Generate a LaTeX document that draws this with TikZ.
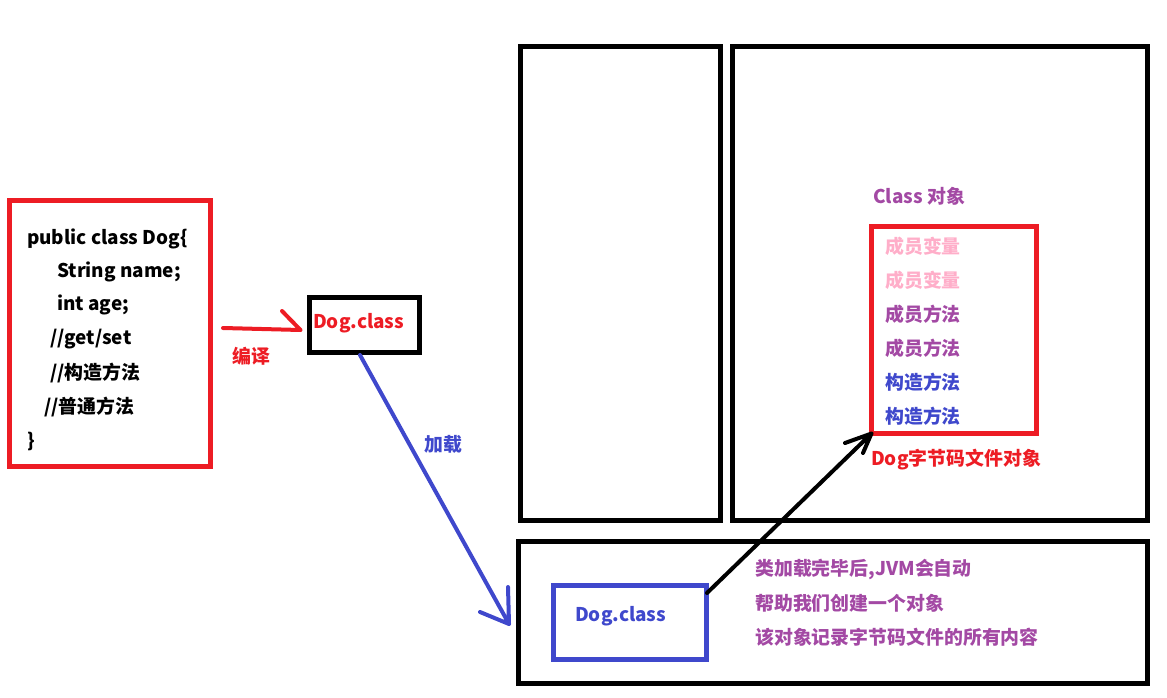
\documentclass[tikz,border=0pt]{standalone}
\usepackage{fontspec}
\setmainfont{Noto Sans CJK SC}
\usetikzlibrary{calc}
\definecolor{pred}{HTML}{ED1C24}
\definecolor{pblue}{HTML}{3F48CC}
\definecolor{ppurple}{HTML}{A349A4}
\definecolor{ppink}{HTML}{FFAEC9}
\begin{document}
\begin{tikzpicture}[x=1pt,y=-1pt,
  box/.style={draw, rectangle, line width=5pt, inner sep=0pt, outer sep=0pt},
  txt/.style={anchor=west, inner sep=0pt, font=\fontsize{18.9}{21}\selectfont\bfseries},
  stroke/.style={line width=4pt, line cap=round}]
\useasboundingbox (0,0) rectangle (1167,698);
% boxes
\node[box, draw=pred, minimum width=200.5, minimum height=266] (code) at (109.75,333) {};
\node[box, minimum width=109.5, minimum height=55] (dogc) at (364.25,324.5) {};
\node[box, minimum width=200, minimum height=473.5] (stack) at (620.5,283.25) {};
\node[box, minimum width=414.5, minimum height=473.5] (heap) at (939.75,283.25) {};
\node[box, minimum width=629, minimum height=142] (meta) at (832.5,612) {};
\node[box, draw=pblue, minimum width=153, minimum height=74] (bdog) at (629.5,622) {};
\node[box, draw=pred, minimum width=165, minimum height=207] (cobj) at (954,330) {};
% code text
\node[txt] (l1) at (27,239) {public class Dog\{};
\node[txt] (l2) at (57,272) {String name;};
\node[txt] (l3) at (57,305) {int age;};
\node[txt] (l4) at (50,339) {//get/set};
\node[txt] (l5) at (50,373) {//构造方法};
\node[txt] (l6) at (44,407) {//普通方法};
\node[txt] (l7) at (27,441) {\}};
% labels
\node[txt, text=pred] (bianyi) at (232,356) {编译};
\node[txt, text=pred] (dogtxt) at (313,323) {Dog.class};
\node[txt, text=pblue] (jiazai) at (424,444) {加载};
\node[txt, text=ppurple] (cls) at (873,196) {Class 对象};
\node[txt, text=ppink] (m1) at (885,246) {成员变量};
\node[txt, text=ppink] (m2) at (885,280) {成员变量};
\node[txt, text=ppurple] (m3) at (885,314) {成员方法};
\node[txt, text=ppurple] (m4) at (885,348) {成员方法};
\node[txt, text=pblue] (m5) at (885,382) {构造方法};
\node[txt, text=pblue] (m6) at (885,416) {构造方法};
\node[txt, text=pred] (dogobj) at (871,460) {Dog字节码文件对象};
\node[txt, text=pblue] (bdogtxt) at (575,616) {Dog.class};
\node[txt, text=ppurple] (n1) at (755,569) {类加载完毕后,JVM会自动};
\node[txt, text=ppurple] (n2) at (755,603) {帮助我们创建一个对象};
\node[txt, text=ppurple] (n3) at (755,637) {该对象记录字节码文件的所有内容};
% arrow coordinates
\coordinate (ra) at ($(code.east)+(13,-5)$);
\coordinate (rb) at ($(dogc.west)+(-9,5.5)$);
\coordinate (rh) at (282,311);
\coordinate (ba) at (360,355);
\coordinate (bb) at (509,624);
\coordinate (bh1) at (508,587);
\coordinate (bh2) at (480,612);
\coordinate (ka) at ($(bdog.north east)+(1,8)$);
\coordinate (kb) at (cobj.south west);
\coordinate (kh1) at (845,443);
\coordinate (kh2) at (863,453);
% arrows
\draw[stroke, pred] (ra) -- (rb) (rh) -- (rb);
\draw[stroke, pblue] (ba) -- (bb) (bh1) -- (bb) (bh2) -- (bb);
\draw[stroke, black] (ka) -- (kb) (kh1) -- (kb) (kh2) -- (kb);
\end{tikzpicture}
\end{document}
